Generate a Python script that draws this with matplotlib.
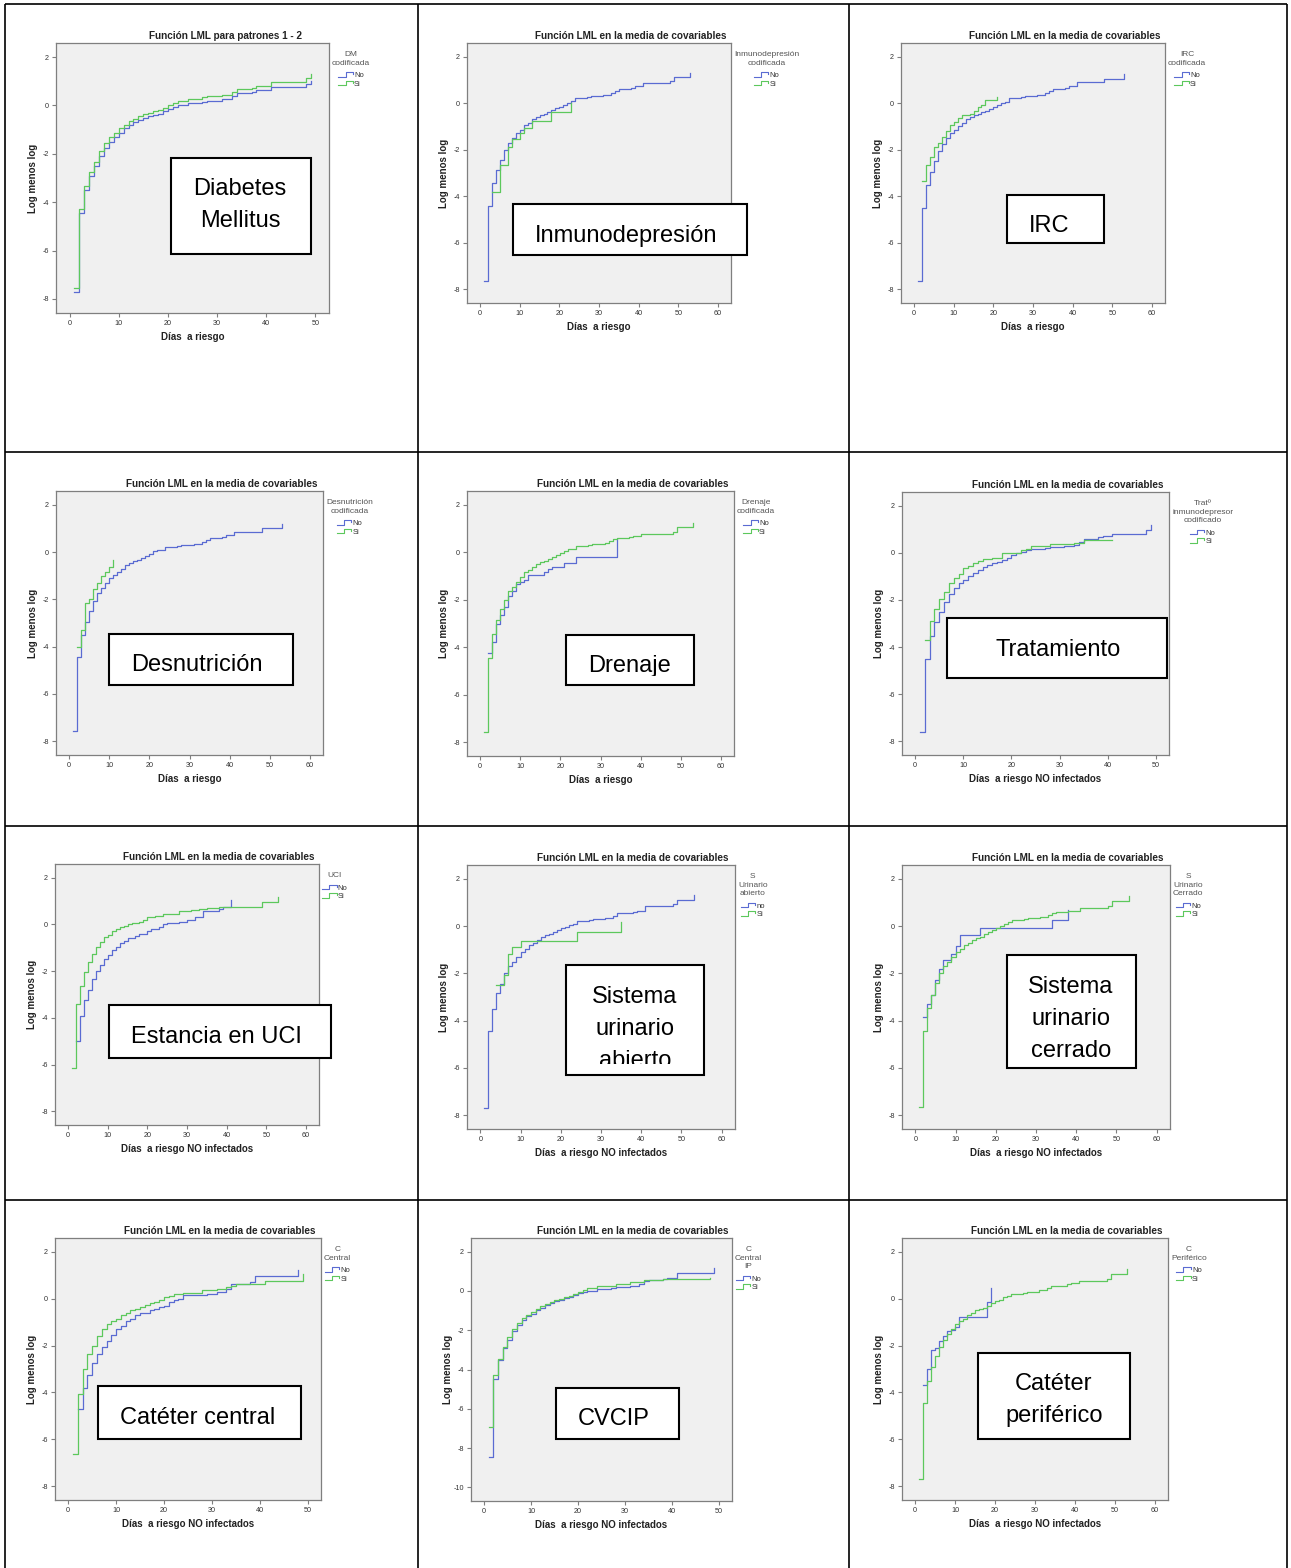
import numpy as np
import matplotlib
matplotlib.use("Agg")
import matplotlib.pyplot as plt
from matplotlib.lines import Line2D
from matplotlib.patches import Rectangle
from matplotlib.legend_handler import HandlerBase
from matplotlib.transforms import Bbox

plt.rcParams['font.family'] = ['Liberation Sans', 'DejaVu Sans']
plt.rcParams['axes.unicode_minus'] = False

# ---------------------------------------------------------------- datos
# cada curva: dias de evento y valor LML (log menos log), escalonada
dm_no_dias = [1,2,3,4,5,6,7,8,9,10,11,12,13,14,15,16,17,18,19,20,21,22,24,27,28,31,33,34,37,38,41,48,49]
dm_no_lml = [-7.72,-4.45,-3.5,-2.9,-2.5,-2.1,-1.75,-1.5,-1.3,-1.15,-0.95,-0.8,-0.7,-0.6,-0.5,-0.45,-0.4,-0.35,-0.25,-0.15,-0.05,0.0,0.1,0.15,0.2,0.28,0.38,0.5,0.55,0.62,0.76,0.9,1.0]
dm_si_dias = [1,2,3,4,5,6,7,8,9,10,11,12,13,14,15,16,17,18,19,20,21,22,24,27,28,31,33,34,37,38,41,48,49]
dm_si_lml = [-7.55,-4.27,-3.35,-2.75,-2.32,-1.9,-1.57,-1.32,-1.15,-0.95,-0.8,-0.65,-0.55,-0.45,-0.35,-0.3,-0.25,-0.2,-0.1,0.0,0.1,0.17,0.28,0.33,0.38,0.45,0.55,0.68,0.72,0.8,0.97,1.12,1.3]

inm_no_dias = [1,2,3,4,5,6,7,8,9,10,11,12,13,14,15,16,17,18,19,20,21,22,23,24,27,28,31,33,34,35,38,39,41,48,49,53]
inm_no_lml = [-7.65,-4.4,-3.45,-2.85,-2.45,-2.0,-1.7,-1.5,-1.3,-1.15,-0.95,-0.85,-0.7,-0.6,-0.5,-0.45,-0.38,-0.3,-0.22,-0.15,-0.07,0.0,0.08,0.2,0.25,0.3,0.35,0.42,0.5,0.6,0.65,0.72,0.85,0.95,1.1,1.3]
inm_si_dias = [3,5,7,8,10,11,13,18,23]
inm_si_lml = [-3.8,-2.65,-1.9,-1.55,-1.3,-1.05,-0.75,-0.4,0.0]

irc_no_dias = [1,2,3,4,5,6,7,8,9,10,11,12,13,14,15,16,17,18,19,20,21,22,23,24,27,28,31,33,34,35,38,39,41,48,53]
irc_no_lml = [-7.65,-4.5,-3.5,-2.95,-2.5,-2.05,-1.75,-1.5,-1.3,-1.15,-1.0,-0.85,-0.7,-0.6,-0.5,-0.45,-0.4,-0.32,-0.25,-0.15,-0.07,0.0,0.05,0.2,0.25,0.3,0.35,0.42,0.5,0.6,0.65,0.72,0.9,1.05,1.25]
irc_si_dias = [2,3,4,5,6,7,8,9,10,11,12,14,15,16,17,18,21]
irc_si_lml = [-3.35,-2.65,-2.3,-1.9,-1.7,-1.45,-1.2,-0.95,-0.8,-0.65,-0.5,-0.45,-0.35,-0.15,-0.1,0.15,0.25]

des_no_dias = [1,2,3,4,5,6,7,8,9,10,11,12,13,14,15,16,17,18,19,20,21,22,24,27,28,31,33,34,35,38,39,41,48,53]
des_no_lml = [-7.58,-4.45,-3.5,-2.95,-2.5,-2.05,-1.75,-1.5,-1.3,-1.1,-0.95,-0.85,-0.7,-0.55,-0.45,-0.4,-0.35,-0.25,-0.15,-0.08,0.05,0.1,0.2,0.25,0.3,0.35,0.42,0.5,0.6,0.65,0.7,0.85,1.0,1.2]
des_si_dias = [2,3,4,5,6,7,8,9,10,11]
des_si_lml = [-4.0,-3.3,-2.15,-2.0,-1.55,-1.3,-1.0,-0.85,-0.65,-0.35]

dre_no_dias = [2,3,4,5,6,7,8,9,10,11,12,16,17,18,21,24,34]
dre_no_lml = [-4.25,-3.8,-3.0,-2.65,-2.3,-1.85,-1.65,-1.35,-1.25,-1.15,-0.95,-0.85,-0.7,-0.6,-0.45,-0.2,0.55]
dre_si_dias = [1,2,3,4,5,6,7,8,9,10,11,12,13,14,15,16,17,18,19,20,21,22,23,24,27,28,31,32,33,34,37,38,40,48,49,53]
dre_si_lml = [-7.55,-4.45,-3.45,-2.85,-2.4,-2.0,-1.65,-1.45,-1.25,-1.05,-0.85,-0.75,-0.6,-0.5,-0.4,-0.35,-0.3,-0.2,-0.12,-0.05,0.05,0.12,0.15,0.25,0.3,0.35,0.4,0.48,0.55,0.6,0.65,0.7,0.75,0.85,1.05,1.25]

tra_no_dias = [1,2,3,4,5,6,7,8,9,10,11,12,13,14,15,16,17,18,19,20,21,22,23,24,27,28,31,33,34,35,38,39,41,48,49]
tra_no_lml = [-7.6,-4.5,-3.55,-2.95,-2.5,-2.1,-1.75,-1.5,-1.3,-1.15,-1.0,-0.85,-0.75,-0.6,-0.5,-0.45,-0.38,-0.3,-0.2,-0.1,-0.02,0.05,0.1,0.15,0.2,0.25,0.3,0.35,0.45,0.6,0.65,0.7,0.8,0.95,1.2]
tra_si_dias = [2,3,4,5,6,7,8,9,10,11,12,13,14,16,18,22,23,24,28,33,35,41]
tra_si_lml = [-3.7,-2.9,-2.4,-1.95,-1.65,-1.3,-1.05,-0.9,-0.65,-0.55,-0.45,-0.35,-0.25,-0.2,0.0,0.1,0.15,0.28,0.38,0.4,0.55,0.55]

uci_no_dias = [2,3,4,5,6,7,8,9,10,11,12,13,14,15,17,18,20,21,23,24,25,28,30,32,34,38,39,41]
uci_no_lml = [-5.0,-3.9,-3.25,-2.8,-2.35,-2.0,-1.75,-1.5,-1.3,-1.1,-0.95,-0.8,-0.7,-0.6,-0.5,-0.4,-0.3,-0.2,-0.1,0.0,0.05,0.1,0.2,0.3,0.55,0.65,0.75,1.05]
uci_si_dias = [1,2,3,4,5,6,7,8,9,10,11,12,13,14,15,16,18,19,20,22,24,28,31,33,35,38,49,53]
uci_si_lml = [-6.15,-3.42,-2.65,-2.05,-1.6,-1.25,-0.95,-0.75,-0.55,-0.45,-0.3,-0.2,-0.12,-0.08,0.0,0.05,0.1,0.2,0.3,0.35,0.45,0.55,0.6,0.65,0.7,0.75,0.95,1.15]

sua_no_dias = [1,2,3,4,5,6,7,8,9,10,11,12,13,14,15,16,17,18,19,20,21,22,23,24,27,28,31,33,34,38,39,41,48,49,53]
sua_no_lml = [-7.68,-4.45,-3.5,-2.85,-2.45,-2.0,-1.7,-1.5,-1.3,-1.1,-0.95,-0.8,-0.7,-0.6,-0.45,-0.4,-0.35,-0.25,-0.18,-0.1,-0.02,0.05,0.1,0.2,0.25,0.3,0.35,0.42,0.55,0.6,0.65,0.85,0.95,1.1,1.3]
sua_si_dias = [4,6,7,8,10,24,35]
sua_si_lml = [-2.5,-2.05,-1.2,-0.9,-0.65,-0.24,0.18]

suc_no_dias = [2,3,4,5,6,7,9,10,11,16,34,38]
suc_no_lml = [-3.85,-3.3,-2.9,-2.3,-1.8,-1.45,-1.2,-0.85,-0.4,-0.1,0.25,0.68]
suc_si_dias = [1,2,3,4,5,6,7,8,9,10,11,12,13,14,15,16,17,18,19,20,21,22,23,24,27,28,31,33,34,35,38,41,48,49,53]
suc_si_lml = [-7.65,-4.45,-3.45,-2.9,-2.4,-2.0,-1.7,-1.5,-1.3,-1.1,-0.95,-0.8,-0.7,-0.6,-0.5,-0.45,-0.35,-0.25,-0.15,-0.08,0.0,0.1,0.15,0.25,0.3,0.35,0.4,0.45,0.55,0.6,0.65,0.75,0.85,1.05,1.25]

cc_no_dias = [2,3,4,5,6,7,8,9,10,11,12,13,14,15,17,18,19,20,21,22,23,24,29,31,33,34,38,39,48]
cc_no_lml = [-4.72,-3.83,-3.25,-2.75,-2.35,-2.05,-1.8,-1.55,-1.3,-1.15,-0.95,-0.85,-0.7,-0.6,-0.5,-0.45,-0.35,-0.3,-0.15,-0.05,0.0,0.15,0.2,0.3,0.4,0.6,0.7,0.95,1.2]
cc_si_dias = [1,2,3,4,5,6,7,8,9,10,11,12,13,14,15,16,17,18,19,20,21,22,24,28,31,33,34,35,41,49]
cc_si_lml = [-6.63,-4.05,-3.0,-2.35,-2.0,-1.6,-1.3,-1.1,-0.95,-0.85,-0.7,-0.6,-0.5,-0.45,-0.35,-0.28,-0.2,-0.15,-0.05,0.05,0.1,0.2,0.25,0.35,0.4,0.5,0.55,0.6,0.75,1.05]

cvc_no_dias = [1,2,3,4,5,6,7,8,9,10,11,12,13,14,15,16,17,18,19,20,21,22,24,27,28,31,33,34,35,38,39,41,49]
cvc_no_lml = [-8.44,-4.5,-3.5,-2.9,-2.5,-2.05,-1.75,-1.5,-1.3,-1.15,-0.95,-0.85,-0.7,-0.6,-0.5,-0.45,-0.38,-0.3,-0.2,-0.12,-0.05,0.0,0.1,0.15,0.2,0.25,0.35,0.5,0.55,0.6,0.65,0.9,1.15]
cvc_si_dias = [1,2,3,4,5,6,7,8,9,10,11,12,13,14,15,16,17,18,19,20,21,22,24,28,31,34,38,48]
cvc_si_lml = [-6.95,-4.3,-3.45,-2.85,-2.35,-1.95,-1.65,-1.4,-1.2,-1.05,-0.9,-0.75,-0.65,-0.55,-0.45,-0.4,-0.33,-0.25,-0.15,-0.05,0.05,0.15,0.25,0.35,0.45,0.55,0.6,0.65]

cp_no_dias = [2,3,4,5,6,7,8,9,10,11,18,19]
cp_no_lml = [-3.7,-3.0,-2.2,-2.1,-1.8,-1.6,-1.4,-1.35,-1.2,-0.8,-0.15,0.45]
cp_si_dias = [1,2,3,4,5,6,7,8,9,10,11,12,13,14,15,16,17,18,19,20,21,22,23,24,27,28,31,33,34,38,39,41,48,49,53]
cp_si_lml = [-7.68,-4.45,-3.5,-2.9,-2.45,-2.05,-1.75,-1.5,-1.3,-1.1,-0.95,-0.85,-0.7,-0.6,-0.5,-0.45,-0.4,-0.3,-0.2,-0.1,-0.05,0.05,0.1,0.2,0.25,0.3,0.35,0.45,0.55,0.6,0.65,0.75,0.85,1.05,1.25]

titulo_pat = "Función LML para patrones 1 - 2"
titulo_cov = "Función LML en la media de covariables"
eje_x1 = "Días  a riesgo"
eje_x2 = "Días  a riesgo NO infectados"

# ---------------------------------------------------------------- figura
W, H = 1291, 1568
fig = plt.figure(figsize=(W / 100, H / 100), dpi=100)

AZUL = '#5a6bd2'
VERDE = '#5cc85c'


class IconoEscalon(HandlerBase):
    # icono de la leyenda con forma de escalon, como en SPSS
    def create_artists(self, legend, orig_handle, xdescent, ydescent,
                       width, height, fontsize, trans):
        x0, y0 = -xdescent, -ydescent
        xs = [x0, x0 + 0.5 * width, x0 + 0.5 * width, x0 + width, x0 + width]
        ys = [y0 + 0.1 * height, y0 + 0.1 * height, y0 + 0.9 * height,
              y0 + 0.9 * height, y0 + 0.55 * height]
        return [Line2D(xs, ys, color=orig_handle.get_color(), lw=0.8,
                       transform=trans)]


# posicion de cada grafico en pixeles (izq, arriba, der, abajo)
paneles = [
    ((56, 43, 329, 313), 50, -8, titulo_pat, eje_x1, "DM\ncodificada", ("No", "Si"),
     dm_no_dias, dm_no_lml, dm_si_dias, dm_si_lml),
    ((467, 43, 731, 303), 60, -8, titulo_cov, eje_x1, "Inmunodepresión\ncodificada", ("No", "Si"),
     inm_no_dias, inm_no_lml, inm_si_dias, inm_si_lml),
    ((901, 43, 1165, 303), 60, -8, titulo_cov, eje_x1, "IRC\ncodificada", ("No", "Si"),
     irc_no_dias, irc_no_lml, irc_si_dias, irc_si_lml),
    ((56, 491, 323, 755), 60, -8, titulo_cov, eje_x1, "Desnutrición\ncodificada", ("No", "Si"),
     des_no_dias, des_no_lml, des_si_dias, des_si_lml),
    ((467, 491, 734, 756), 60, -8, titulo_cov, eje_x1, "Drenaje\ncodificada", ("No", "Si"),
     dre_no_dias, dre_no_lml, dre_si_dias, dre_si_lml),
    ((902, 492, 1169, 755), 50, -8, titulo_cov, eje_x2, "Tratº\ninmunodepresor\ncodificado", ("No", "Si"),
     tra_no_dias, tra_no_lml, tra_si_dias, tra_si_lml),
    ((55, 864, 319, 1125), 60, -8, titulo_cov, eje_x2, "UCI", ("No", "Si"),
     uci_no_dias, uci_no_lml, uci_si_dias, uci_si_lml),
    ((467, 865, 735, 1129), 60, -8, titulo_cov, eje_x2, "S\nUrinario\nabierto", ("no", "Si"),
     sua_no_dias, sua_no_lml, sua_si_dias, sua_si_lml),
    ((902, 865, 1170, 1129), 60, -8, titulo_cov, eje_x2, "S\nUrinario\nCerrado", ("No", "Si"),
     suc_no_dias, suc_no_lml, suc_si_dias, suc_si_lml),
    ((55, 1238, 321, 1500), 50, -8, titulo_cov, eje_x2, "C\nCentral", ("No", "Si"),
     cc_no_dias, cc_no_lml, cc_si_dias, cc_si_lml),
    ((471, 1238, 732, 1501), 50, -10, titulo_cov, eje_x2, "C\nCentral\nIP", ("No", "Si"),
     cvc_no_dias, cvc_no_lml, cvc_si_dias, cvc_si_lml),
    ((902, 1238, 1168, 1500), 60, -8, titulo_cov, eje_x2, "C\nPeriférico", ("No", "Si"),
     cp_no_dias, cp_no_lml, cp_si_dias, cp_si_lml),
]

for (rect, xmax, ymin, titulo, xlab, ley_tit, etiquetas,
     no_d, no_v, si_d, si_v) in paneles:
    l, t, r, b = rect
    ax = fig.add_axes([l / W, 1 - b / H, (r - l) / W, (b - t) / H])
    ax.set_facecolor('#f0f0f0')
    for s in ax.spines.values():
        s.set_color('#7f7f7f')
        s.set_linewidth(0.9)

    l_no, = ax.step(no_d, no_v, where='post', color=AZUL, lw=0.9)
    l_si, = ax.step(si_d, si_v, where='post', color=VERDE, lw=0.9)

    ax.set_xlim(-0.055 * xmax, 1.055 * xmax)
    pad = 0.058 * (2 - ymin)
    ax.set_ylim(ymin - pad, 2 + pad)
    ax.set_xticks(np.arange(0, xmax + 1, 10))
    ax.set_yticks(np.arange(ymin, 3, 2))
    ax.tick_params(length=3, width=0.8, color='#7f7f7f', labelsize=5.2,
                   labelcolor='#333333', pad=2)

    ax.annotate(titulo, xy=(0.62, 1), xycoords='axes fraction', xytext=(0, 7),
                textcoords='offset pixels', ha='center', va='center',
                fontsize=7.2, fontweight='bold', color='#222222')
    ax.annotate(xlab, xy=(0.5, 0), xycoords='axes fraction', xytext=(0, -24),
                textcoords='offset pixels', ha='center', va='center',
                fontsize=7, fontweight='bold', color='#222222')
    ax.annotate("Log menos log", xy=(0, 0.5), xycoords='axes fraction',
                xytext=(-23, 0), textcoords='offset pixels', ha='center',
                va='center', rotation=90, fontsize=7, fontweight='bold',
                color='#222222')

    leg = ax.legend([l_no, l_si], etiquetas, title=ley_tit, loc='upper left',
                    bbox_to_anchor=(1, 1 - 5 / (b - t)), frameon=False,
                    fontsize=5.5, title_fontsize=6, handlelength=1.9,
                    handleheight=0.7, handletextpad=0.15, labelspacing=0.15,
                    borderpad=0, borderaxespad=0.4,
                    handler_map={l_no: IconoEscalon(), l_si: IconoEscalon()})
    leg.get_title().set_multialignment('center')
    leg.get_title().set_color('#555555')
    leg.get_title().set_linespacing(1.3)
    leg._legend_box.sep = 3.8
    for tx in leg.get_texts():
        tx.set_color('#333333')

# ---------------------------------------------------------------- tabla y recuadros
ov = fig.add_axes([0, 0, 1, 1], zorder=10)
ov.set_xlim(0, W)
ov.set_ylim(H, 0)
ov.axis('off')

col_x = [5, 417.5, 849, 1287]
fila_y = [4, 452, 826, 1200]
ov.vlines(col_x, 4, H, color='black', lw=1.2)
ov.hlines(fila_y, 5, 1287, color='black', lw=1.2)

# (izq, arriba, der, abajo, texto, x texto, y texto, limite de recorte)
cajas = [
    (171, 158, 311, 254, "Diabetes\nMellitus", 240, 205, 254),
    (513, 204, 747, 255, "Inmunodepresión", 626, 236, 255),
    (1007, 195, 1104, 243, "IRC", 1049, 226, 243),
    (109, 634, 293, 685, "Desnutrición", 197, 665, 685),
    (566, 635, 694, 685, "Drenaje", 629, 666, 676),
    (947, 618, 1167, 678, "Tratamiento", 1058, 650, 678),
    (109, 1005, 331, 1058, "Estancia en UCI", 216, 1037, 1058),
    (566, 965, 704, 1075, "Sistema\nurinario\nabierto", 635, 1029, 1064),
    (1007, 955, 1136, 1068, "Sistema\nurinario\ncerrado", 1071, 1019, 1068),
    (98, 1386, 301, 1439, "Catéter central", 198, 1418, 1439),
    (556, 1388, 679, 1439, "CVCIP", 614, 1419, 1439),
    (978, 1353, 1130, 1439, "Catéter\nperiférico", 1054, 1400, 1439),
]
for (l, t, r, b, texto, tx, ty, corte) in cajas:
    ov.add_patch(Rectangle((l, t), r - l, b - t, facecolor='white',
                           edgecolor='black', lw=1.5))
    txt = ov.text(tx, ty, texto, ha='center', va='center', fontsize=17,
                  linespacing=1.6, color='black')
    txt.set_clip_path(None)
    txt.set_clip_box(Bbox.from_extents(l, H - corte, r, H - t))
    txt.set_clip_on(True)

fig.savefig("out.png", dpi=100)
